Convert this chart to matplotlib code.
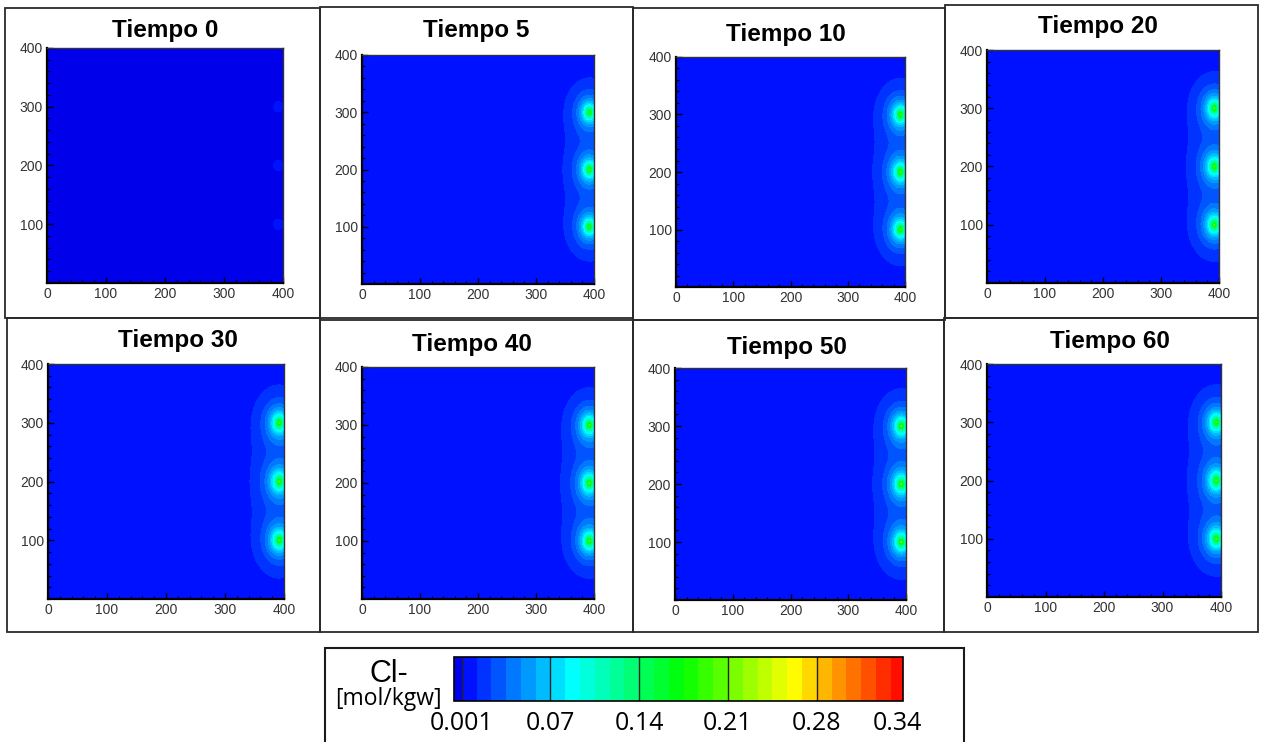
import numpy as np
import matplotlib
matplotlib.use("Agg")
import matplotlib.pyplot as plt
from matplotlib import font_manager as fm
from matplotlib.patches import Rectangle
from matplotlib.colors import ListedColormap, BoundaryNorm

# ---------------- data ----------------
times = [0, 5, 10, 20, 30, 40, 50, 60]
panel_titles = ["Tiempo 0", "Tiempo 5", "Tiempo 10", "Tiempo 20",
                "Tiempo 30", "Tiempo 40", "Tiempo 50", "Tiempo 60"]
source_x = 392.0
source_y = [100.0, 200.0, 300.0]
background_conc = [0.0005, 0.005, 0.005, 0.005, 0.005, 0.005, 0.005, 0.005]
peak_conc = [0.004, 0.205, 0.21, 0.21, 0.21, 0.21, 0.21, 0.21]
spread_x = [4.0, 9.6, 10.0, 10.0, 10.2, 10.2, 10.2, 10.2]
spread_y = [4.5, 13.5, 14.0, 14.0, 14.3, 14.3, 14.3, 14.3]
decay_power = [1.0, 0.8, 0.8, 0.8, 0.8, 0.8, 0.8, 0.8]
axis_ticks = [0, 100, 200, 300, 400]
cbar_tick_values = [0.001, 0.07, 0.1390, 0.2080, 0.2770, 0.3395]
cbar_tick_labels = ["0.001", "0.07", "0.14", "0.21", "0.28", "0.34"]
cbar_line_values = [0.001, 0.07, 0.139, 0.208, 0.277]
level_step = 0.0115
level_min, level_first, level_max = -0.005, 0.001, 0.344

# ---------------- fonts ----------------
names = {f.name for f in fm.fontManager.ttflist}
tick_font = "Liberation Sans Narrow" if "Liberation Sans Narrow" in names else "Liberation Sans"
title_font = "Liberation Sans"
cbar_font = "Open Sans" if "Open Sans" in names else "DejaVu Sans"

# ---------------- colours ----------------
levels = [level_min] + [level_first + k * level_step for k in range(30)] + [level_max]
anchors = np.array([[0, 0, 255], [0, 255, 255], [0, 255, 0], [255, 255, 0], [255, 0, 0]]) / 255.0
def rainbow(f):
    f = np.clip(f, 0, 1) * 4
    i = min(int(f), 3)
    t = f - i
    return tuple(anchors[i] * (1 - t) + anchors[i + 1] * t)
colors = [(0, 0, 0.92)]
for a, b in zip(levels[1:-1], levels[2:]):
    mid = 0.5 * (a + b)
    colors.append(rainbow((mid - level_first) / (level_max - level_first)))
cmap = ListedColormap(colors)
norm = BoundaryNorm(levels, cmap.N)

# ---------------- figure ----------------
W, H = 1261, 742
fig = plt.figure(figsize=(W / 100, H / 100), dpi=100)

def rect(l, t, r, b):
    return [l / W, 1 - b / H, (r - l) / W, (b - t) / H]

axes_px = [(47, 48, 283, 283), (362, 55, 594, 284), (676, 57, 905, 287), (987, 50, 1219, 283),
           (48, 364, 284, 599), (362, 367, 594, 599), (675, 368, 906, 600), (987, 364, 1221, 597)]
title_pos = [(165, 31), (476, 30), (786, 34), (1098, 27),
             (178, 340), (472, 345), (787, 348), (1110, 342)]
boxes_px = [(5, 8, 320, 318), (320, 7, 633, 318), (633, 8, 945, 320), (945, 5, 1258, 318),
            (7, 318, 320, 632), (320, 320, 633, 632), (633, 320, 944, 632), (944, 318, 1258, 632)]

for (l, t, r, b) in boxes_px:
    fig.patches.append(Rectangle((l / W, 1 - b / H), (r - l) / W, (b - t) / H,
                                 transform=fig.transFigure, fill=False,
                                 edgecolor="#2a2a2a", linewidth=1.3))

xg = np.linspace(0, 400, 801)
yg = np.linspace(0, 400, 801)
X, Y = np.meshgrid(xg, yg)

cs = None
for i in range(len(times)):
    ax = fig.add_axes(rect(*axes_px[i]))
    field = np.full_like(X, background_conc[i])
    for sy in source_y:
        r = np.sqrt(((X - source_x) / spread_x[i]) ** 2 + ((Y - sy) / spread_y[i]) ** 2)
        field += (peak_conc[i] - background_conc[i]) * np.exp(-r ** decay_power[i])
    cs = ax.contourf(X, Y, field, levels=levels, cmap=cmap, norm=norm)
    ax.set_xlim(0, 400)
    ax.set_ylim(0, 400)
    ax.set_xticks(axis_ticks)
    ax.set_yticks(axis_ticks[1:])
    ax.set_xticks(np.arange(0, 401, 20), minor=True)
    ax.set_yticks(np.arange(0, 401, 20), minor=True)
    ax.tick_params(which="major", direction="in", length=4, width=1, labelsize=10,
                   labelcolor="#333333", pad=3)
    ax.tick_params(which="minor", direction="in", length=2.5, width=0.8)
    for lab in ax.get_xticklabels() + ax.get_yticklabels():
        lab.set_fontfamily(tick_font)
    for s in ["left", "bottom"]:
        ax.spines[s].set_linewidth(1.6)
        ax.spines[s].set_color("black")
    for s in ["top", "right"]:
        ax.spines[s].set_linewidth(1.0)
        ax.spines[s].set_color("#333333")
    tx, ty = title_pos[i]
    fig.text(tx / W, 1 - ty / H, panel_titles[i], ha="center", va="center",
             fontsize=17.5, fontweight="bold", family=title_font, color="black")

# ---------------- colour bar ----------------
fig.patches.append(Rectangle((325 / W, 1 - 760 / H), (964 - 325) / W, (760 - 648) / H,
                             transform=fig.transFigure, fill=False,
                             edgecolor="#1a1a1a", linewidth=1.5))
cax = fig.add_axes(rect(454, 657, 903, 701))
cb = fig.colorbar(cs, cax=cax, orientation="horizontal", spacing="proportional")
cb.outline.set_linewidth(1.2)
cb.outline.set_edgecolor("black")
cax.minorticks_off()
cax.set_xticks(cbar_tick_values)
cax.set_xticklabels(cbar_tick_labels)
cax.tick_params(which="both", length=0, pad=7, labelsize=18)
for lab in cax.get_xticklabels():
    lab.set_fontfamily(cbar_font)
for v in cbar_line_values:
    cax.axvline(v, color="#222222", linewidth=1.0)

fig.text(389 / W, 1 - 674 / H, "Cl-", ha="center", va="center", fontsize=22,
         family="Liberation Sans", color="black")
fig.text(388 / W, 1 - 699 / H, "[mol/kgw]", ha="center", va="center", fontsize=16.5,
         family=cbar_font, color="black")

fig.savefig("out.png", dpi=100)
